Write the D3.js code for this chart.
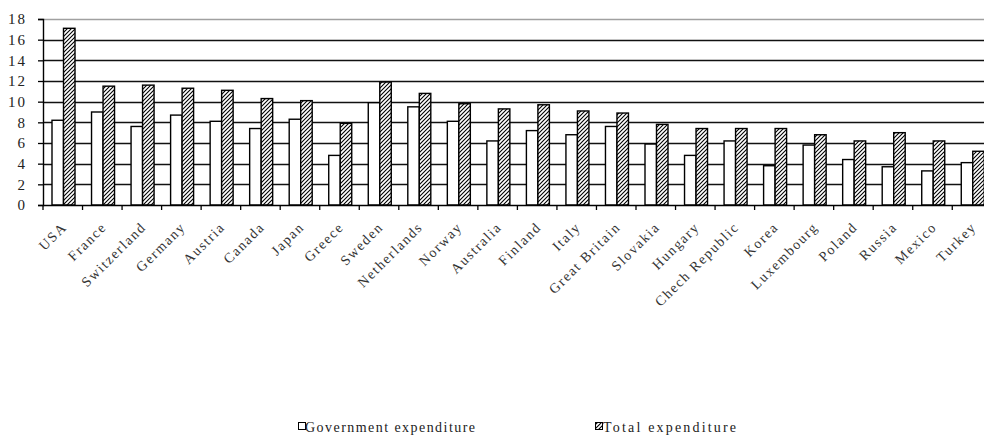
<!DOCTYPE html>
<html><head><meta charset="utf-8">
<script src="https://cdn.jsdelivr.net/npm/d3@7"></script>
<style>body{margin:0;background:#fff}svg{display:block}</style>
</head><body>
<script>
const countries = ["USA","France","Switzerland","Germany","Austria","Canada","Japan","Greece","Sweden","Netherlands","Norway","Australia","Finland","Italy","Great Britain","Slovakia","Hungary","Chech Republic","Korea","Luxembourg","Poland","Russia","Mexico","Turkey"];
const govExpenditure = [8.2,9.0,7.6,8.7,8.1,7.4,8.3,4.8,9.9,9.5,8.1,6.2,7.2,6.8,7.6,5.9,4.8,6.2,3.8,5.8,4.4,3.7,3.3,4.1];
const totalExpenditure = [17.1,11.5,11.6,11.3,11.1,10.3,10.1,7.9,11.9,10.8,9.8,9.3,9.7,9.1,8.9,7.8,7.4,7.4,7.4,6.8,6.2,7.0,6.2,5.2];
const yTicks = [0,2,4,6,8,10,12,14,16,18];
const seriesNames = ["Government expenditure","Total expenditure"];

const W = 984, H = 439;
const mLeft = 43, mRight = 991.8, mTop = 19, mBottom = 205;
const svg = d3.select("body").append("svg").attr("width", W).attr("height", H);

const defs = svg.append("defs");
const pat = defs.append("pattern").attr("id","hatch").attr("patternUnits","userSpaceOnUse")
  .attr("width",4).attr("height",4);
pat.append("rect").attr("width",4).attr("height",4).attr("fill","#fff");
pat.append("path").attr("d","M-1,1 l2,-2 M0,4 l4,-4 M3,5 l2,-2").attr("stroke","#000").attr("stroke-width",1.1);

const x = d3.scaleBand().domain(countries).range([mLeft, mRight]).padding(0);
const xi = d3.scaleBand().domain(["gov","total"]).range([9, 32]).padding(0);
const y = d3.scaleLinear().domain([0,18]).range([mBottom, mTop]);

// gridlines
svg.append("g").selectAll("line").data(yTicks.filter(d=>d>0)).join("line")
  .attr("x1", mLeft).attr("x2", W).attr("y1", d=>Math.round(y(d))+0.5).attr("y2", d=>Math.round(y(d))+0.5)
  .attr("stroke", d=> d===18 ? "#a0a0a0" : "#111").attr("stroke-width", 1.4);

// bars
const g = svg.append("g");
countries.forEach((c,i)=>{
  const data = [{k:"gov",v:govExpenditure[i]},{k:"total",v:totalExpenditure[i]}];
  g.selectAll(null).data(data).join("rect")
    .attr("x", d=> x(c)+xi(d.k))
    .attr("y", d=> y(d.v))
    .attr("width", xi.bandwidth())
    .attr("height", d=> mBottom - y(d.v))
    .attr("fill", d=> d.k==="gov" ? "#fff" : "url(#hatch)")
    .attr("stroke","#000").attr("stroke-width",1.4);
});

// y axis
const yAxis = d3.axisLeft(y).tickValues(yTicks).tickSize(5).tickPadding(11);
const ya = svg.append("g").attr("transform",`translate(${mLeft},0)`).call(yAxis);
ya.select(".domain").attr("stroke","#000").attr("stroke-width",1.4);
ya.selectAll(".tick line").attr("stroke","#000").attr("stroke-width",1.3);
ya.selectAll(".tick text").attr("font-family","'Liberation Serif', serif").attr("font-size",15)
  .attr("fill","#222").attr("letter-spacing","2px");

// x axis
const xa = svg.append("g").attr("transform",`translate(0,${mBottom})`);
xa.append("line").attr("x1",mLeft).attr("x2",W).attr("y1",0.5).attr("y2",0.5).attr("stroke","#000").attr("stroke-width",1.4);
xa.selectAll("line.tk").data(countries).join("line").attr("class","tk")
  .attr("x1", d=>x(d)).attr("x2", d=>x(d)).attr("y1",0).attr("y2",5)
  .attr("stroke","#000").attr("stroke-width",1.3);
xa.selectAll("text.lab").data(countries).join("text").attr("class","lab")
  .attr("transform", d=>`translate(${x(d)+x.bandwidth()/2+5},23) rotate(-45)`)
  .attr("text-anchor","end")
  .attr("font-family","'Liberation Serif', serif").attr("font-size",14)
  .attr("letter-spacing","1.6px")
  .attr("fill","#333").text(d=>d);

// legend
const legend = [{name:seriesNames[0], fill:"#fff", bx:298, tx:305, len:170},
                {name:seriesNames[1], fill:"url(#hatch)", bx:595, tx:603, len:133}];
const lg = svg.append("g").selectAll("g").data(legend).join("g");
lg.append("rect").attr("x",d=>d.bx+0.5).attr("y",422.5).attr("width",7).attr("height",7)
  .attr("fill",d=>d.fill).attr("stroke","#000").attr("stroke-width",1);
lg.append("text").attr("x",d=>d.tx).attr("y",431.5)
  .attr("font-family","'Liberation Serif', serif").attr("font-size",14)
  .attr("textLength",d=>d.len).attr("lengthAdjust","spacing")
  .attr("fill","#222").text(d=>d.name);
</script>
</body></html>
